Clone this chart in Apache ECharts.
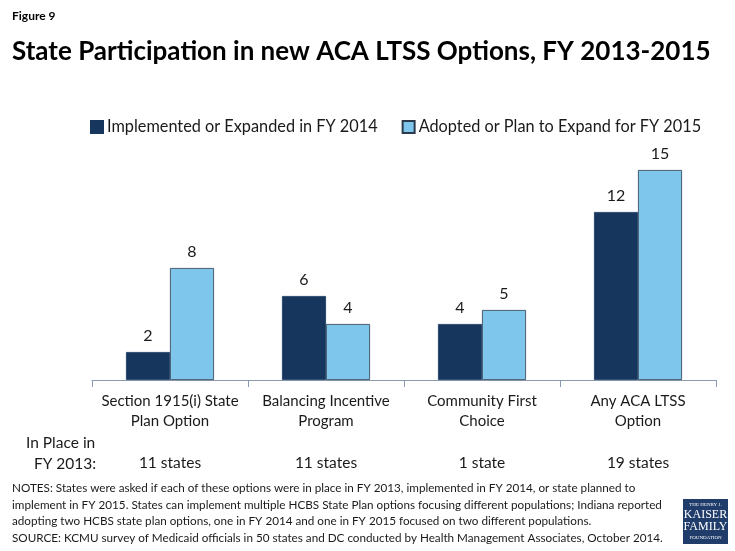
<!DOCTYPE html>
<html>
<head>
<meta charset="utf-8">
<script src="https://cdn.jsdelivr.net/npm/echarts@6/dist/echarts.min.js"></script>
<style>
  html, body { margin: 0; padding: 0; background: #fff; }
  #chart { width: 735px; height: 551px; }
</style>
</head>
<body>
<div id="chart"></div>
<script>
// categories and values
var categories = ['Section 1915(i) State\nPlan Option', 'Balancing Incentive\nProgram', 'Community First\nChoice', 'Any ACA LTSS\nOption'];
var implemented2014 = [2, 6, 4, 12];
var planned2015 = [8, 4, 5, 15];
var inPlace2013 = ['11 states', '11 states', '1 state', '19 states'];
var seriesNames = ['Implemented or Expanded in FY 2014', 'Adopted or Plan to Expand for FY 2015'];

var FONT = 'Lato, "Open Sans", sans-serif';
var notes = [
  'NOTES: States were asked if each of these options were in place in FY 2013, implemented in FY 2014, or state planned to',
  'implement in FY 2015. States can implement multiple HCBS State Plan options focusing different populations; Indiana reported',
  'adopting two HCBS state plan options, one in FY 2014 and one in FY 2015 focused on two different populations.',
  'SOURCE: KCMU survey of Medicaid officials in 50 states and DC conducted by Health Management Associates, October 2014.'
];

var chart = echarts.init(document.getElementById('chart'));

var barLabel = {
  show: true,
  position: 'top',
  distance: 8,
  fontFamily: FONT,
  fontSize: 16,
  color: '#1a1a1a'
};

var option = {
  backgroundColor: '#fff',
  animation: false,
  textStyle: { fontFamily: FONT },
  grid: { left: 92, right: 19, top: 156, bottom: 171 },
  legend: {
    top: 114,
    left: 85,
    itemWidth: 12,
    itemHeight: 12,
    itemGap: 24,
    icon: 'rect',
    textStyle: { fontFamily: FONT, fontSize: 16.3, color: '#1a1a1a', padding: [0, 0, 0, -1] },
    data: seriesNames
  },
  xAxis: [{
    type: 'category',
    data: categories,
    axisLine: { lineStyle: { color: '#8a9bb0', width: 1 } },
    axisTick: { show: true, length: 7, lineStyle: { color: '#8a9bb0' } },
    axisLabel: {
      fontFamily: FONT, fontSize: 15, color: '#1a1a1a',
      lineHeight: 20, margin: 11, interval: 0
    }
  }, {
    type: 'category',
    position: 'bottom',
    offset: 67,
    data: inPlace2013,
    axisLine: { show: false },
    axisTick: { show: false },
    axisLabel: { fontFamily: FONT, fontSize: 15.5, color: '#1a1a1a', interval: 0 }
  }],
  yAxis: {
    type: 'value',
    min: 0,
    max: 16,
    show: false
  },
  series: [{
    name: seriesNames[0],
    type: 'bar',
    data: implemented2014,
    barWidth: 44,
    barGap: '0%',
    itemStyle: { color: '#17365d', borderColor: '#17365d', borderWidth: 0.8 },
    label: barLabel
  }, {
    name: seriesNames[1],
    type: 'bar',
    data: planned2015,
    barWidth: 44,
    itemStyle: { color: '#7fc6ed', borderColor: '#2a3a4a', borderWidth: 0.8 },
    label: barLabel
  }],
  graphic: [
    { type: 'text', left: 12, top: 10, style: { text: 'Figure 9', fontFamily: FONT, fontWeight: 'bold', fontSize: 12, fill: '#000' } },
    { type: 'text', left: 12, top: 39, style: { text: 'State Participation in new ACA LTSS Options, FY 2013-2015', fontFamily: FONT, fontWeight: 'bold', fontSize: 26, fill: '#000' } },
    { type: 'text', left: 26, top: 432, style: { text: 'In Place in\n  FY 2013:', fontFamily: FONT, fontSize: 15.5, lineHeight: 21, fill: '#1a1a1a' } },
    { type: 'text', left: 12, top: 480, style: { text: notes.join('\n'), fontFamily: FONT, fontSize: 11.7, lineHeight: 16.5, fill: '#1a1a1a' } },
    {
      type: 'group', left: 683, top: 499,
      children: [
        { type: 'rect', shape: { x: 0, y: 0, width: 45, height: 45 }, style: { fill: '#1f3c6b' } },
        { type: 'text', x: 22.5, y: 3, style: { text: 'THE HENRY J.', align: 'center', fontFamily: 'Liberation Serif', fontSize: 5, fill: '#fff' } },
        { type: 'text', x: 22.5, y: 10, style: { text: 'KAISER', align: 'center', fontFamily: 'Liberation Serif', fontSize: 12, fill: '#fff' } },
        { type: 'text', x: 22.5, y: 22, style: { text: 'FAMILY', align: 'center', fontFamily: 'Liberation Serif', fontSize: 12, fill: '#fff' } },
        { type: 'text', x: 22.5, y: 36, style: { text: 'FOUNDATION', align: 'center', fontFamily: 'Liberation Serif', fontSize: 5, fill: '#fff' } }
      ]
    }
  ]
};

chart.setOption(option);
</script>
</body>
</html>
